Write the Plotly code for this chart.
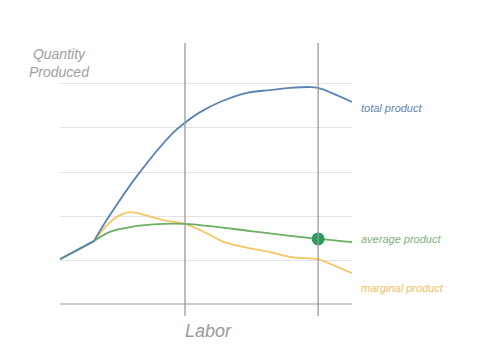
import plotly.graph_objects as go

# Labor (x) and quantity (y) values
tp_x = [0, 1.16, 1.61, 2.67, 3.87, 4.28, 4.80, 5.48, 6.40, 7.19, 7.88, 8.56, 8.84, 10.0]
tp_y = [1.02, 1.43, 1.92, 2.94, 3.89, 4.12, 4.36, 4.59, 4.80, 4.86, 4.91, 4.93, 4.91, 4.59]

mp_x = [0, 1.16, 1.71, 2.06, 2.40, 2.91, 3.53, 4.28, 4.80, 5.14, 5.58, 6.27, 7.19, 7.88, 8.84, 9.01, 10.0]
mp_y = [1.02, 1.43, 1.86, 2.02, 2.09, 2.02, 1.91, 1.82, 1.68, 1.57, 1.42, 1.30, 1.18, 1.07, 1.02, 0.98, 0.70]

ap_x = [0, 1.16, 1.71, 2.40, 3.53, 4.28, 5.14, 6.51, 7.88, 8.84, 10.0]
ap_y = [1.02, 1.43, 1.64, 1.75, 1.82, 1.82, 1.77, 1.66, 1.55, 1.48, 1.41]

marker_x = [8.84]
marker_y = [1.48]

vlines = [4.28, 8.84]
grid_vals = [1, 2, 3, 4, 5]

BLUE = "#5b84b5"
GREEN = "#6cae62"
YELLOW = "#f5c765"
DOT = "#2b9a5c"
FONT = "Liberation Sans, Arial, sans-serif"

fig = go.Figure()


def add_series(xs, ys, color):
    # straight segment up to the kink, smooth curve afterwards
    fig.add_trace(go.Scatter(x=xs[:2], y=ys[:2], mode="lines",
                             line=dict(color=color, width=1.8), hoverinfo="skip"))
    fig.add_trace(go.Scatter(x=xs[1:], y=ys[1:], mode="lines",
                             line=dict(color=color, width=1.8, shape="spline", smoothing=1.0),
                             hoverinfo="skip"))


add_series(mp_x, mp_y, YELLOW)
add_series(ap_x, ap_y, GREEN)
add_series(tp_x, tp_y, BLUE)
fig.add_trace(go.Scatter(x=marker_x, y=marker_y, mode="markers",
                         marker=dict(color=DOT, size=13, line=dict(width=0)),
                         hoverinfo="skip"))

for v in vlines:
    fig.add_shape(type="line", xref="x", yref="paper", x0=v, x1=v, y0=0, y1=1,
                  line=dict(color="#9a9a9a", width=1.3), layer="above")

fig.add_annotation(x=1.024, y=0.762, xref="paper", yref="paper", text="total product",
                   showarrow=False, xanchor="left", yanchor="middle",
                   font=dict(family=FONT, size=11, color=BLUE, style="italic"))
fig.add_annotation(x=1.024, y=0.282, xref="paper", yref="paper", text="average product",
                   showarrow=False, xanchor="left", yanchor="middle",
                   font=dict(family=FONT, size=11, color="#7fb07f", style="italic"))
fig.add_annotation(x=1.024, y=0.1026, xref="paper", yref="paper", text="marginal product",
                   showarrow=False, xanchor="left", yanchor="middle",
                   font=dict(family=FONT, size=11, color="#f0c060", style="italic"))
fig.add_annotation(x=-0.0034, y=0.925, xref="paper", yref="paper",
                   text="Quantity<br>Produced", showarrow=False,
                   xanchor="center", yanchor="middle", align="center",
                   font=dict(family=FONT, size=14, color="#a0a0a0", style="italic"))
fig.add_annotation(x=0.5086, y=-0.055, xref="paper", yref="paper",
                   text="Labor", showarrow=False, xanchor="center", yanchor="middle",
                   font=dict(family=FONT, size=18, color="#9a9a9a", style="italic"))

fig.update_layout(
    width=472, height=352,
    margin=dict(l=52, r=128, t=35, b=44),
    paper_bgcolor="white", plot_bgcolor="white",
    showlegend=False,
    xaxis=dict(range=[0, 10], showgrid=False, zeroline=False, showticklabels=False,
               showline=False, ticks=""),
    yaxis=dict(range=[-0.27, 5.93], tickvals=grid_vals, showgrid=True,
               gridcolor="#e3e3e3", gridwidth=1, zeroline=True,
               zerolinecolor="#cccccc", zerolinewidth=2,
               showticklabels=False, showline=False, ticks=""),
)

fig.write_html("out.html")
